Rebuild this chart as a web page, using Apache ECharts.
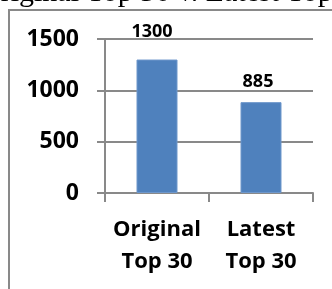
<!DOCTYPE html>
<html>
<head>
<meta charset="utf-8">
<script src="https://cdn.jsdelivr.net/npm/echarts@6/dist/echarts.min.js"></script>
<style>
  html, body { margin: 0; padding: 0; background: #fff; }
  #chart { width: 332px; height: 289px; }
</style>
</head>
<body>
<div id="chart"></div>
<script>
// data
const categories = ["Original\nTop 30", "Latest\nTop 30"];
const values = [1300, 885];
const yTicks = [0, 500, 1000, 1500];
const titleText = "Original Top 30 v. Latest Top 30";

// label placement per bar (the labels sit at different heights in the original)
const labelNudge = [
  { distance: 19, offset: [-5, 0] },
  { distance: 11, offset: [-3, 0] },
];

const gray = "#898989";
const font = "Open Sans";

let chart = echarts.init(document.getElementById("chart"));

const option = {
  animation: false,
  grid: { left: 105, right: 19, top: 39, bottom: 96 },
  graphic: [
    {
      type: "rect",
      shape: { x: 9, y: 10, width: 400, height: 400 },
      style: { fill: "none", stroke: gray, lineWidth: 2 },
      silent: true,
    },
    {
      type: "text",
      x: -21,
      y: -7,
      style: {
        text: titleText,
        fontSize: 30,
        fontFamily: "Liberation Serif",
        fill: "#000",
        verticalAlign: "middle",
      },
      silent: true,
    },
  ],
  xAxis: {
    type: "category",
    data: categories,
    axisLine: { lineStyle: { color: gray, width: 2 } },
    axisTick: { show: true, length: 9, lineStyle: { color: gray, width: 2 } },
    axisLabel: {
      color: "#000",
      fontFamily: font,
      fontWeight: "bold",
      fontSize: 22,
      lineHeight: 32,
      margin: 21,
      interval: 0,
    },
  },
  yAxis: {
    type: "value",
    min: yTicks[0],
    max: yTicks[yTicks.length - 1],
    interval: yTicks[1] - yTicks[0],
    axisLine: { show: true, lineStyle: { color: gray, width: 2 } },
    axisTick: { show: true, length: 8, lineStyle: { color: gray, width: 2 } },
    splitLine: { lineStyle: { color: gray, width: 2 } },
    axisLabel: {
      color: "#000",
      fontFamily: font,
      fontWeight: "bold",
      fontSize: 23,
      margin: 26,
      formatter: (v) => String(v),
    },
  },
  series: [
    {
      type: "bar",
      barWidth: 41,
      data: values.map((v, i) => ({
        value: v,
        label: labelNudge[i],
      })),
      itemStyle: { color: "#4f81bd", borderColor: "#6e97cb", borderWidth: 1 },
      label: {
        show: true,
        position: "top",
        color: "#000",
        fontFamily: font,
        fontWeight: "bold",
        fontSize: 18,
      },
    },
  ],
};
chart.setOption(option);
</script>
</body>
</html>
